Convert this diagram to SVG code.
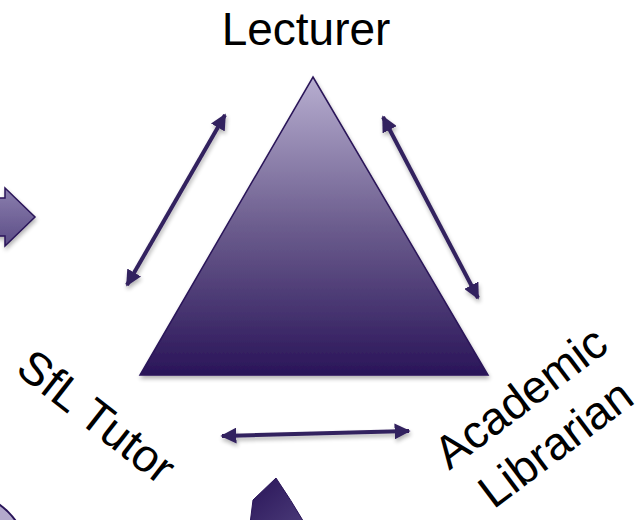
<svg xmlns="http://www.w3.org/2000/svg" width="644" height="520" viewBox="0 0 644 520">
  <defs>
    <linearGradient id="triFill" x1="0" y1="0" x2="0" y2="1">
      <stop offset="0" stop-color="#b7aed0"/>
      <stop offset="0.5" stop-color="#6c5d8e"/>
      <stop offset="1" stop-color="#2a1559"/>
    </linearGradient>
    <linearGradient id="blockFill" x1="0" y1="0" x2="0" y2="1">
      <stop offset="0" stop-color="#8b7fae"/>
      <stop offset="1" stop-color="#5b4c86"/>
    </linearGradient>
    <linearGradient id="bandFill" x1="0" y1="0" x2="1" y2="1">
      <stop offset="0" stop-color="#2a1559"/>
      <stop offset="1" stop-color="#4a3a78"/>
    </linearGradient>
    <filter id="shadow" x="-10%" y="-10%" width="130%" height="130%">
      <feGaussianBlur in="SourceAlpha" stdDeviation="2"/>
      <feOffset dx="1" dy="3" result="b"/>
      <feComponentTransfer><feFuncA type="linear" slope="0.3"/></feComponentTransfer>
      <feMerge><feMergeNode/><feMergeNode in="SourceGraphic"/></feMerge>
    </filter>
    <marker id="head" viewBox="0 0 10 10" refX="9" refY="5" markerWidth="4" markerHeight="4" orient="auto-start-reverse" markerUnits="strokeWidth">
      <path d="M0,0 L10,5 L0,10 Z" fill="#33205e"/>
    </marker>
    <style>
      .lbl { font-family: "Liberation Sans", Arial, sans-serif; font-size: 46px; fill: #000; }
      .link { stroke: #33205e; stroke-width: 4; fill: none; marker-start: url(#head); marker-end: url(#head); }
    </style>
  </defs>

  <!-- partial block arrow at left edge -->
  <g id="side-arrow">
    <path d="M-5,198 L5,198 L5,188 L35,217 L5,246 L5,236 L-5,236 Z" fill="url(#blockFill)" stroke="#2a1559" stroke-width="1.5" filter="url(#shadow)"/>
  </g>

  <!-- partial circle at bottom-left corner -->
  <g id="corner-circle">
    <circle cx="-40" cy="560" r="68" fill="#b3a9cc" stroke="#2a1559" stroke-width="2"/>
  </g>

  <!-- partial curved band at bottom -->
  <g id="curved-band">
    <path d="M276,478 Q291,500 305,524 L250,524 L253,500 Z" fill="url(#bandFill)" stroke="#2a1559" stroke-width="1"/>
  </g>

  <!-- central triangle -->
  <g id="triangle">
    <polygon points="313,77 488,375 140,375" fill="url(#triFill)" stroke="#2a1559" stroke-width="1.5" filter="url(#shadow)"/>
  </g>

  <!-- two-way connectors -->
  <g id="connectors" filter="url(#shadow)">
    <line class="link" x1="127" y1="285" x2="225" y2="115"/>
    <line class="link" x1="383" y1="117" x2="478" y2="298"/>
    <line class="link" x1="222" y1="436" x2="409" y2="431"/>
  </g>

  <!-- role labels -->
  <g id="lecturer">
    <text class="lbl" x="306" y="45" text-anchor="middle">Lecturer</text>
  </g>
  <g id="sfl-tutor">
    <text class="lbl" transform="translate(14,372) rotate(38)">SfL Tutor</text>
  </g>
  <g id="academic-librarian">
    <text class="lbl" text-anchor="middle" transform="translate(530,410) rotate(-37)">Academic</text>
    <text class="lbl" text-anchor="middle" transform="translate(565,456) rotate(-37)">Librarian</text>
  </g>
</svg>
